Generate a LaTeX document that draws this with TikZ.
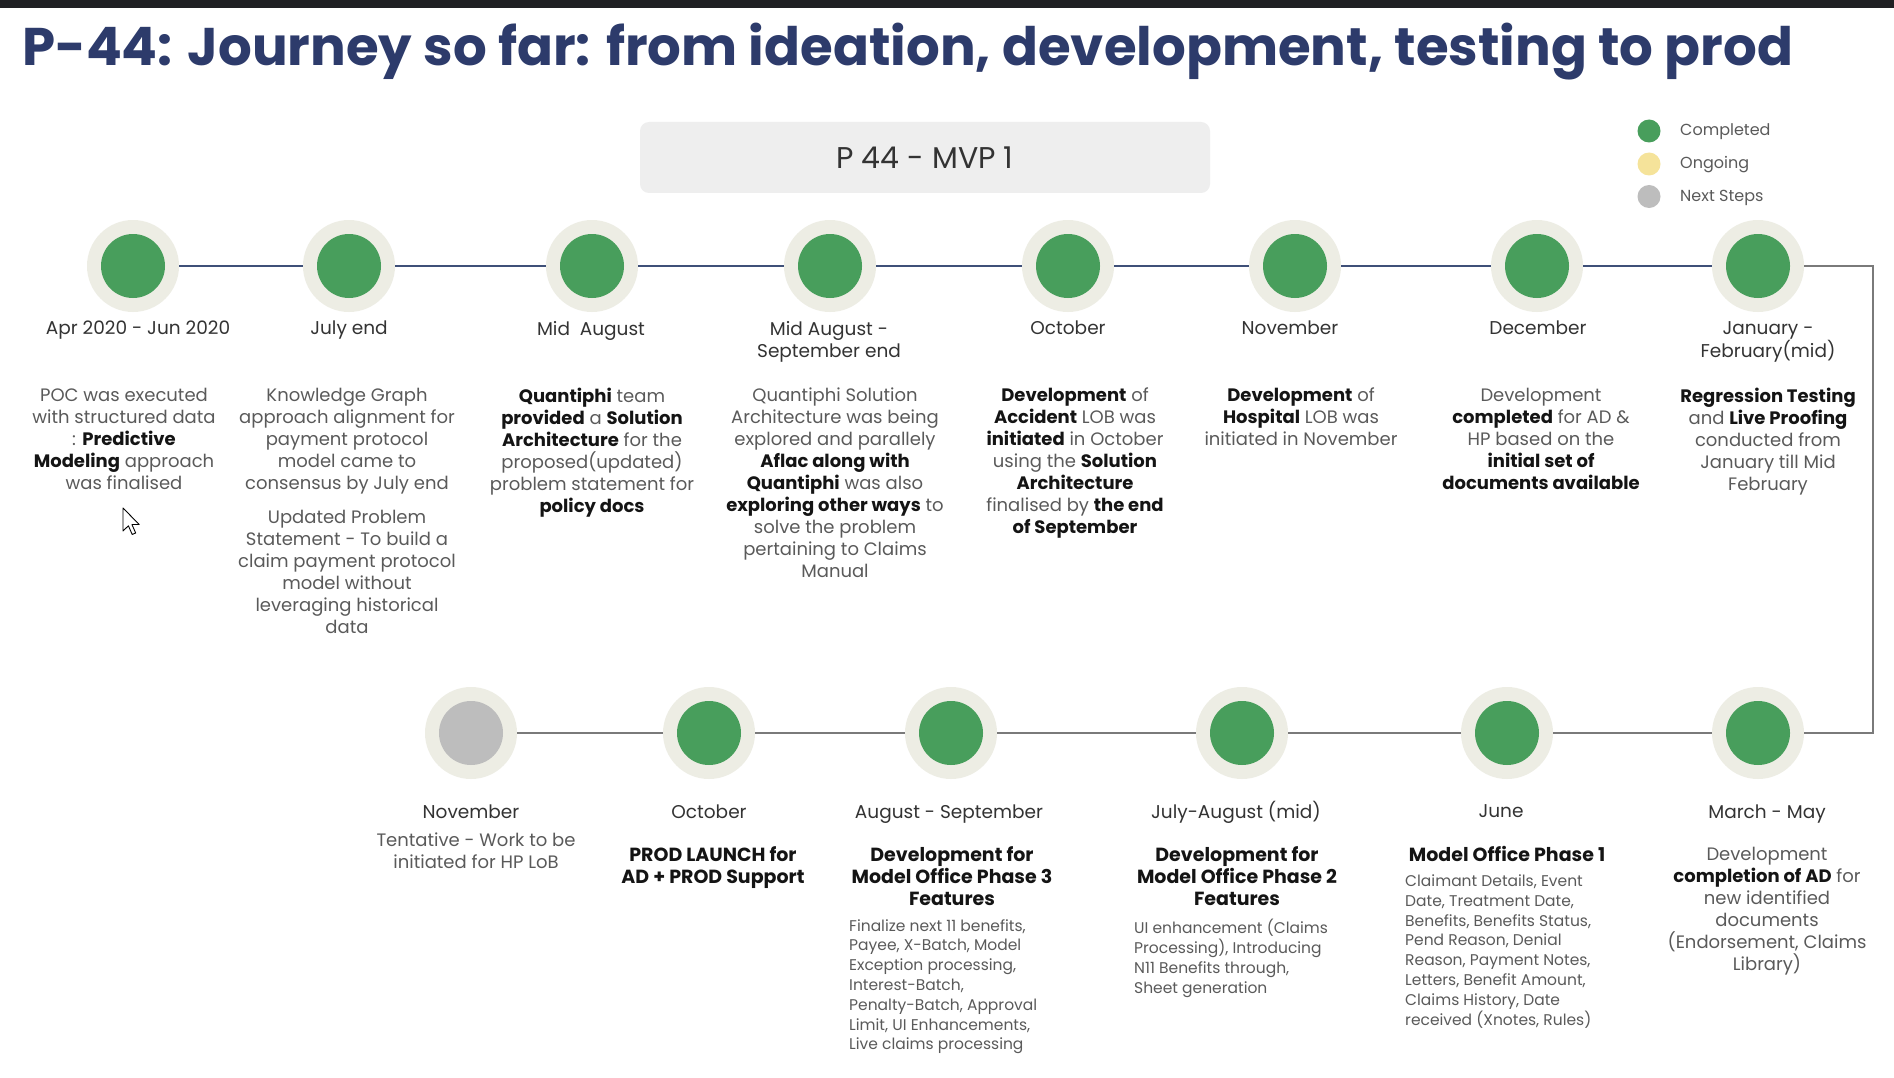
\documentclass[tikz,border=0pt]{standalone}
\usepackage{fontspec}
\setmainfont{Poppins}
\definecolor{titleblue}{HTML}{2D3B6B}
\definecolor{done}{HTML}{489E5C}
\definecolor{halocol}{HTML}{EDEDE4}
\definecolor{nextcol}{HTML}{BDBDBD}
\definecolor{ongoing}{HTML}{F5E39A}
\definecolor{navyline}{HTML}{3F5078}
\definecolor{greyline}{HTML}{7A7A7A}
\definecolor{desccol}{HTML}{5A5A5A}
\definecolor{datecol}{HTML}{333333}
\definecolor{ink}{HTML}{141414}
\definecolor{boxfill}{HTML}{EEEEEE}
\definecolor{topbar}{HTML}{202124}
\newcommand{\kw}[1]{{\bfseries\color{ink}#1}}
\tikzset{
  halo/.style={circle, fill=halocol, minimum size=92pt, inner sep=0pt},
  donedot/.style={circle, fill=done, minimum size=64pt, inner sep=0pt},
  nextdot/.style={circle, fill=nextcol, minimum size=64pt, inner sep=0pt},
  toplink/.style={draw=navyline, line width=2.2pt},
  botlink/.style={draw=greyline, line width=2.2pt},
  datelbl/.style={font=\fontsize{18.5}{22}\selectfont, text=datecol, align=center, anchor=north, inner sep=0pt},
  desclbl/.style={font=\fontsize{18}{22}\selectfont, text=desccol, align=center, anchor=north, inner sep=0pt},
  headlbl/.style={font=\fontsize{19}{22}\selectfont\bfseries, text=ink, align=center, anchor=north, inner sep=0pt},
  smalllbl/.style={font=\fontsize{15.5}{19.8}\selectfont, text=desccol, align=left, anchor=north west, inner sep=0pt},
  legdot/.style={circle, minimum size=23pt, inner sep=0pt},
  leglbl/.style={font=\fontsize{16}{20}\selectfont, text=desccol, anchor=west, inner sep=0pt},
}
\begin{document}
\begin{tikzpicture}[x=1pt, y=-1pt]
\useasboundingbox (0,0) rectangle (1894,1078);
\fill[white] (0,0) rectangle (1894,1078);
\fill[topbar] (0,0) rectangle (1894,8);

% title
\node[anchor=base west, inner sep=0pt, text=titleblue,
      font=\fontsize{53}{53}\selectfont\bfseries] (title) at (22,66)
  {P-44: Journey so far: from ideation, development, testing to prod};

% MVP banner
\node[draw=none, fill=boxfill, rounded corners=9pt, minimum width=570pt,
      minimum height=71pt, inner sep=0pt, font=\fontsize{30}{32}\selectfont,
      text=datecol] (mvp) at (925,157.5) {P 44 - MVP 1};

% legend
\node[legdot, fill=done] (lg1) at (1649,131) {};
\node[legdot, fill=ongoing] (lg2) at (1649,164) {};
\node[legdot, fill=nextcol] (lg3) at (1649,196.5) {};
\node[leglbl] (lt1) at (1680,132) {Completed};
\node[leglbl] (lt2) at (1680,165) {Ongoing};
\node[leglbl] (lt3) at (1680,197.5) {Next Steps};

% first row of milestones
\foreach \i/\x in {1/133,2/349,3/592,4/830,5/1068,6/1295,7/1537,8/1758}{
  \node[halo] (h\i) at (\x,266) {};
  \node[donedot] (m\i) at (\x,266) {};
}
% second row of milestones
\foreach \i/\x in {1/471,2/709,3/951,4/1242,5/1507,6/1758}{
  \node[halo] (g\i) at (\x,733) {};
}
\node[nextdot] (n1) at (g1) {};
\foreach \i in {2,...,6}{ \node[donedot] (n\i) at (g\i) {}; }

% connectors
\foreach \a/\b in {1/2,2/3,3/4,4/5,5/6,6/7,7/8}{ \draw[toplink] (h\a) -- (h\b); }
\coordinate (turnA) at (1873,266);
\coordinate (turnB) at (1873,733);
\draw[botlink] (h8) -- (turnA) -- (turnB) -- (g6);
\foreach \a/\b in {6/5,5/4,4/3,3/2,2/1}{ \draw[botlink] (g\a) -- (g\b); }

% dates, first row
\node[datelbl] (d1) at (138,321) {Apr 2020 - Jun 2020};
\node[datelbl] (d2) at (349,321) {July end};
\node[datelbl] (d3) at (591,321) {Mid\ \ August};
\node[datelbl] (d4) at (829,321) {Mid August -\\September end};
\node[datelbl] (d5) at (1068,321) {October};
\node[datelbl] (d6) at (1290,321) {November};
\node[datelbl] (d7) at (1538,321) {December};
\node[datelbl] (d8) at (1768,321) {January -\\February(mid)};

% descriptions, first row
\node[desclbl] (t1) at (124,388) {POC was executed\\with structured data\\: \kw{Predictive}\\\kw{Modeling} approach\\was finalised};
\node[desclbl] (t2) at (347,388) {Knowledge Graph\\approach alignment for\\payment protocol\\model came to\\consensus by July end};
\node[desclbl] (t2b) at (347,510) {Updated Problem\\Statement - To build a\\claim payment protocol\\model without\\leveraging historical\\data};
\node[desclbl] (t3) at (592,388) {\kw{Quantiphi} team\\\kw{provided} a \kw{Solution}\\\kw{Architecture} for the\\proposed(updated)\\problem statement for\\\kw{policy docs}};
\node[desclbl] (t4) at (835,388) {Quantiphi Solution\\Architecture was being\\explored and parallely\\\kw{Aflac along with}\\\kw{Quantiphi} was also\\\kw{exploring other ways} to\\solve the problem\\pertaining to Claims\\Manual};
\node[desclbl] (t5) at (1075,388) {\kw{Development} of\\\kw{Accident} LOB was\\\kw{initiated} in October\\using the \kw{Solution}\\\kw{Architecture}\\finalised by \kw{the end}\\\kw{of September}};
\node[desclbl] (t6) at (1301,388) {\kw{Development} of\\\kw{Hospital} LOB was\\initiated in November};
\node[desclbl] (t7) at (1541,388) {Development\\\kw{completed} for AD \&\\HP based on the\\\kw{initial set of}\\\kw{documents available}};
\node[desclbl] (t8) at (1768,388) {\kw{Regression Testing}\\and \kw{Live Proofing}\\conducted from\\January till Mid\\February};

% dates, second row
\node[datelbl] (e1) at (471,804.5) {November};
\node[datelbl] (e2) at (709,804.5) {October};
\node[datelbl] (e3) at (949,804.5) {August - September};
\node[datelbl] (e4) at (1236,801.5) {July-August (mid)};
\node[datelbl] (e5) at (1501,804.5) {June};
\node[datelbl] (e6) at (1767,804.5) {March - May};

% descriptions, second row
\node[desclbl] (u1) at (476,832.5) {Tentative - Work to be\\initiated for HP LoB};
\node[headlbl] (u2) at (713,846) {PROD LAUNCH for\\AD + PROD Support};
\node[headlbl] (u3) at (952,846) {Development for\\Model Office Phase 3\\Features};
\node[smalllbl] (v3) at (849,919) {Finalize next 11 benefits,\\Payee, X-Batch, Model\\Exception processing,\\Interest-Batch,\\Penalty-Batch, Approval\\Limit, UI Enhancements,\\Live claims processing};
\node[headlbl] (u4) at (1237,846) {Development for\\Model Office Phase 2\\Features};
\node[smalllbl] (v4) at (1134,919) {UI enhancement (Claims\\Processing), Introducing\\N11 Benefits through,\\Sheet generation};
\node[headlbl] (u5) at (1507,846) {Model Office Phase 1};
\node[smalllbl] (v5) at (1405,874.5) {Claimant Details, Event\\Date, Treatment Date,\\Benefits, Benefits Status,\\Pend Reason, Denial\\Reason, Payment Notes,\\Letters, Benefit Amount,\\Claims History, Date\\received (Xnotes, Rules)};
\node[desclbl] (u6) at (1767,847) {Development\\\kw{completion of AD} for\\new identified\\documents\\(Endorsement, Claims\\Library)};

% mouse pointer
\begin{scope}[shift={(123,508)}, scale=1.35]
  \draw[fill=white, draw=black, line width=0.9pt, line join=round]
    (0,0) -- (0,17) -- (4,13.2) -- (6.8,19.6) -- (9.4,18.5) -- (6.6,12.2) -- (12,12.2) -- cycle;
\end{scope}
\end{tikzpicture}
\end{document}
